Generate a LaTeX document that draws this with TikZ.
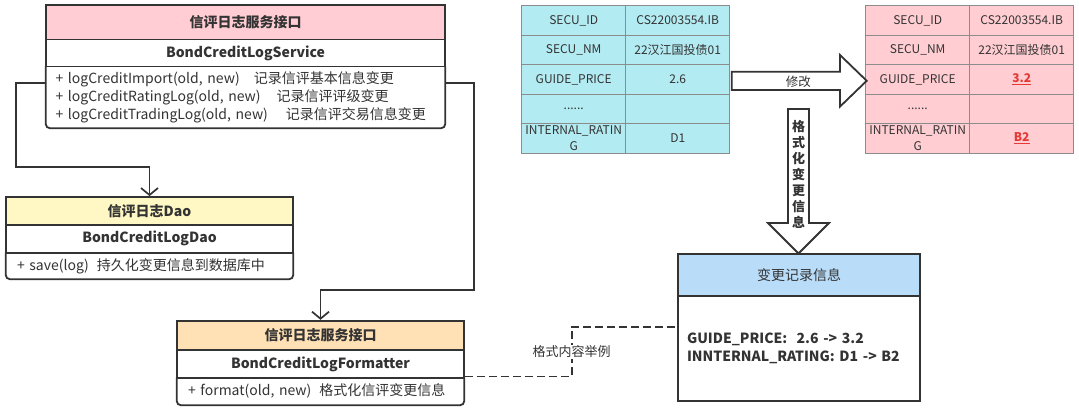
\documentclass[tikz,border=0pt]{standalone}
\usepackage{fontspec}
\setmainfont{Noto Sans CJK SC}
\usepackage{color}
\usetikzlibrary{arrows.meta}
\tikzset{>={Straight Barb[length=7pt,width=17pt]}}

\definecolor{lineC}{HTML}{333333}
\definecolor{txtC}{HTML}{333333}
\definecolor{cellC}{HTML}{8C8C8C}
\definecolor{svcC}{HTML}{FFCDD3}
\definecolor{daoC}{HTML}{FFF8C4}
\definecolor{fmtC}{HTML}{FFE1B5}
\definecolor{chgC}{HTML}{B9DDF9}
\definecolor{oldC}{HTML}{B3EBF2}
\definecolor{newC}{HTML}{FFCDD2}
\definecolor{redC}{HTML}{E53935}

\begin{document}
\begin{tikzpicture}[x=1pt,y=-1pt,
    every node/.style={inner sep=0pt,text=txtC},
    part/.style={draw=lineC,line width=1.8pt},
    cls/.style={font=\fontsize{14}{16}\selectfont\bfseries},
    ops/.style={align=left,font=\fontsize{14}{18}\selectfont},
    cell/.style={draw=cellC,line width=1pt,minimum width=104pt,minimum height=29.5pt,
                 align=center,font=\fontsize{12}{16}\selectfont},
    conn/.style={draw=lineC,line width=1.7pt},
    bigArrow/.style={draw=lineC,line width=1.8pt,fill=white}]
      \path[use as bounding box,fill=white] (0,0) rectangle (1079,410);

      % service interface
      \node[part,cls,fill=svcC,minimum width=399pt,minimum height=34.5pt] (svcH) at (245.5,22.25) {信评日志服务接口};
      \node[part,cls,fill=white,minimum width=399pt,minimum height=27pt]   (svcN) at (245.5,53)    {BondCreditLogService};
      \node[ops,text width=380pt,inner xsep=9.5pt,minimum height=61.5pt]  (svcM) at (245.5,97.25)
           {+ logCreditImport(old, new)\hspace{14pt}记录信评基本信息变更\\
            + logCreditRatingLog(old, new)\hspace{16pt}记录信评评级变更\\
            + logCreditTradingLog(old, new)\hspace{18pt}记录信评交易信息变更};
      \draw[part,rounded corners=4pt] (svcM.north west) -- (svcM.south west) -- (svcM.south east) -- (svcM.north east);

      % dao
      \node[part,cls,fill=daoC,minimum width=287pt,minimum height=28pt]   (daoH) at (149.5,211)   {信评日志Dao};
      \node[part,cls,fill=white,minimum width=287pt,minimum height=27.7pt] (daoN) at (149.5,238.85) {BondCreditLogDao};
      \node[ops,text width=265pt,inner xsep=11pt,minimum height=26.3pt]   (daoM) at (149.5,265.85)
           {+ save(log)\hspace{8pt}持久化变更信息到数据库中};
      \draw[part,rounded corners=4pt] (daoM.north west) -- (daoM.south west) -- (daoM.south east) -- (daoM.north east);

      % formatter
      \node[part,cls,fill=fmtC,minimum width=287pt,minimum height=29.3pt] (fmtH) at (320.5,335.35) {信评日志服务接口};
      \node[part,cls,fill=white,minimum width=287pt,minimum height=27.7pt] (fmtN) at (320.5,363.85) {BondCreditLogFormatter};
      \node[ops,text width=265pt,inner xsep=11pt,minimum height=27.3pt]   (fmtM) at (320.5,391.35)
           {+ format(old, new)\hspace{8pt}格式化信评变更信息};
      \draw[part,rounded corners=4pt] (fmtM.north west) -- (fmtM.south west) -- (fmtM.south east) -- (fmtM.north east);

      % old record
      \node[cell,fill=oldC] (oIdK) at (573.7,20.45)  {SECU\_ID};
      \node[cell,fill=oldC] (oIdV) at (677.7,20.45)  {CS22003554.IB};
      \node[cell,fill=oldC] (oNmK) at (573.7,49.95)  {SECU\_NM};
      \node[cell,fill=oldC] (oNmV) at (677.7,49.95)  {22汉江国投债01};
      \node[cell,fill=oldC] (oGpK) at (573.7,79.45)  {GUIDE\_PRICE};
      \node[cell,fill=oldC] (oGpV) at (677.7,79.45)  {2.6};
      \node[cell,fill=oldC] (oDtK) at (573.7,108.95) {......};
      \node[cell,fill=oldC] (oDtV) at (677.7,108.95) {};
      \node[cell,fill=oldC] (oIrK) at (573.7,138.45) {INTERNAL\_RATIN\\G};
      \node[cell,fill=oldC] (oIrV) at (677.7,138.45) {D1};

      % new record
      \node[cell,fill=newC] (nIdK) at (917.7,20.45)  {SECU\_ID};
      \node[cell,fill=newC] (nIdV) at (1021.7,20.45) {CS22003554.IB};
      \node[cell,fill=newC] (nNmK) at (917.7,49.95)  {SECU\_NM};
      \node[cell,fill=newC] (nNmV) at (1021.7,49.95) {22汉江国投债01};
      \node[cell,fill=newC] (nGpK) at (917.7,79.45)  {GUIDE\_PRICE};
      \node[cell,fill=newC] (nGpV) at (1021.7,79.45) {\textcolor{redC}{\textbf{\underline{3.2}}}};
      \node[cell,fill=newC] (nDtK) at (917.7,108.95) {......};
      \node[cell,fill=newC] (nDtV) at (1021.7,108.95) {};
      \node[cell,fill=newC] (nIrK) at (917.7,138.45) {INTERNAL\_RATIN\\G};
      \node[cell,fill=newC] (nIrV) at (1021.7,138.45) {\textcolor{redC}{\textbf{\underline{B2}}}};

      % big arrows
      \draw[bigArrow] (731.7,71.7) -- (840,71.7) -- (840,55) -- (866.7,80.8) -- (840,106.6) -- (840,90) -- (731.7,90) -- cycle;
      \node[font=\fontsize{12.5}{14}\selectfont] (modLbl) at (798.3,81.5) {修改};
      \draw[bigArrow] (788,109) -- (809,109) -- (809,223) -- (829,223) -- (798.5,253.5) -- (768,223) -- (788,223) -- cycle;
      \node[align=center,font=\fontsize{13}{16.1}\selectfont\bfseries] (fmtLbl) at (798.5,174.4) {格\\式\\化\\变\\更\\信\\息};

      % change record
      \node[part,fill=chgC,minimum width=242pt,minimum height=42pt,font=\fontsize{14}{16}\selectfont] (chgH) at (799,275) {变更记录信息};
      \node[part,fill=white,align=left,text width=224pt,inner xsep=9pt,minimum height=105pt,
            font=\fontsize{14}{18.3}\selectfont\bfseries] (chgB) at (799,348.5)
           {GUIDE\_PRICE:\ \ 2.6 -> 3.2\\INNTERNAL\_RATING: D1 -> B2};

      % connectors
      \coordinate (bendL) at (15.7,166.7);
      \coordinate (bendR) at (474,290);
      \coordinate (bendD) at (571.7,326.7);

      \draw[conn,->] ([yshift=14.5pt]svcM.west) -| (bendL) -| (daoH.north);
      \draw[conn,->] ([yshift=14.5pt]svcM.east) -| (bendR) -| (fmtH.north);
      \draw[conn,dash pattern=on 8pt off 4pt] ([yshift=2pt]fmtN.south east) -|
           node[pos=0.75,fill=white,inner sep=1pt,font=\fontsize{13}{15}\selectfont] (exLbl) {格式内容举例}
           (bendD) -- (chgB.west |- bendD);
    \end{tikzpicture}
\end{document}
